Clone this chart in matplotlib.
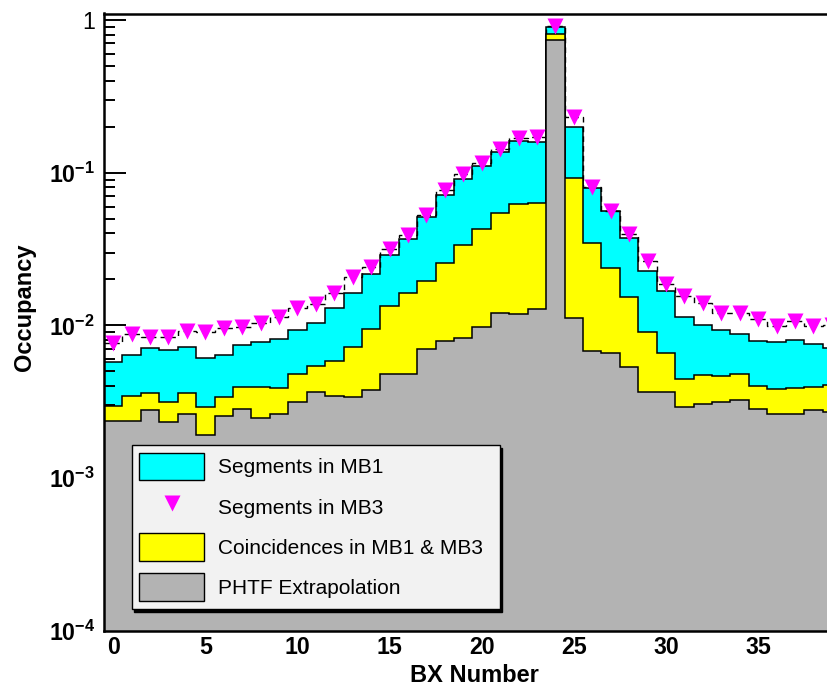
"""
BX occupancy of DT segments and PHTF extrapolation
"""
import numpy as np
import matplotlib
import matplotlib.pyplot as plt
from matplotlib.patches import Patch
from matplotlib.lines import Line2D

matplotlib.use('Agg')

BX = list(range(40))

MB1 = [5.74e-3, 6.41e-3, 7.16e-3, 6.89e-3, 7.23e-3, 6.12e-3, 6.38e-3, 7.45e-3, 7.76e-3, 8.12e-3,
       9.39e-3, 1.04e-2, 1.30e-2, 1.63e-2, 2.16e-2, 2.88e-2, 3.67e-2, 5.11e-2, 7.11e-2, 9.06e-2,
       0.111, 0.136, 0.161, 0.158, 0.896, 0.200, 7.98e-2, 5.64e-2, 3.72e-2, 2.28e-2,
       1.68e-2, 1.14e-2, 1.01e-2, 9.35e-3, 8.80e-3, 7.95e-3, 7.83e-3, 8.00e-3, 7.57e-3, 7.09e-3]

MB3 = [7.71e-3, 8.75e-3, 8.37e-3, 8.45e-3, 9.20e-3, 9.02e-3, 9.59e-3, 9.82e-3, 1.03e-2, 1.13e-2,
       1.30e-2, 1.38e-2, 1.63e-2, 2.06e-2, 2.41e-2, 3.17e-2, 3.89e-2, 5.29e-2, 7.71e-2, 9.82e-2,
       0.115, 0.143, 0.168, 0.172, 0.918, 0.231, 8.03e-2, 5.64e-2, 3.95e-2, 2.62e-2,
       1.88e-2, 1.55e-2, 1.40e-2, 1.20e-2, 1.20e-2, 1.10e-2, 9.97e-3, 1.07e-2, 9.93e-3, 1.00e-2]

COINC = [2.99e-3, 3.47e-3, 3.63e-3, 3.16e-3, 3.60e-3, 2.91e-3, 3.39e-3, 3.94e-3, 3.97e-3, 3.92e-3,
         4.81e-3, 5.41e-3, 5.89e-3, 7.26e-3, 9.48e-3, 1.34e-2, 1.63e-2, 1.96e-2, 2.58e-2, 3.35e-2,
         4.26e-2, 5.43e-2, 6.24e-2, 6.37e-2, 0.810, 9.20e-2, 3.48e-2, 2.37e-2, 1.54e-2, 9.10e-3,
         6.58e-3, 4.45e-3, 4.74e-3, 4.69e-3, 4.79e-3, 4.02e-3, 3.84e-3, 3.92e-3, 3.97e-3, 4.08e-3]

PHTF = [2.38e-3, 2.38e-3, 2.80e-3, 2.32e-3, 2.62e-3, 1.92e-3, 2.56e-3, 2.84e-3, 2.47e-3, 2.62e-3,
        3.14e-3, 3.69e-3, 3.45e-3, 3.42e-3, 3.75e-3, 4.81e-3, 4.81e-3, 6.98e-3, 7.92e-3, 8.24e-3,
        9.82e-3, 1.21e-2, 1.18e-2, 1.28e-2, 0.740, 1.11e-2, 6.81e-3, 6.58e-3, 5.33e-3, 3.69e-3,
        3.69e-3, 2.92e-3, 3.05e-3, 3.16e-3, 3.24e-3, 2.84e-3, 2.62e-3, 2.65e-3, 2.80e-3, 2.73e-3]

Y_TICKS = [1e-4, 1e-3, 1e-2, 1e-1, 1]
Y_LABELS = ['$10^{-4}$', '$10^{-3}$', '$10^{-2}$', '$10^{-1}$', '1']

plt.rcParams['font.family'] = 'Liberation Sans'
plt.rcParams['mathtext.fontset'] = 'custom'
plt.rcParams['mathtext.rm'] = 'Liberation Sans:bold'
plt.rcParams['mathtext.it'] = 'Liberation Sans:bold'
plt.rcParams['mathtext.bf'] = 'Liberation Sans:bold'

edges = np.arange(len(BX) + 1) - 0.5
base = 1e-6

fig = plt.figure(figsize=(8.28, 6.93), dpi=100)
ax = fig.add_axes([104 / 828, 62 / 693, 737 / 828, 617.5 / 693])

# stacked look: each histogram filled down to the bottom, drawn in order
ax.stairs(MB1, edges, baseline=base, fill=True, color='#00ffff', lw=0, zorder=1)
ax.stairs(MB1, edges, baseline=None, color='black', lw=1.1, zorder=1.1)
ax.stairs(MB3, edges, baseline=None, color='black', lw=1.0, ls=(0, (4, 3)), zorder=1.15)
ax.stairs(COINC, edges, baseline=base, fill=True, color='#ffff00', lw=0, zorder=1.2)
ax.stairs(COINC, edges, baseline=None, color='black', lw=1.1, zorder=1.3)
ax.stairs(PHTF, edges, baseline=base, fill=True, color='#b3b3b3', lw=0, zorder=3)
ax.stairs(PHTF, edges, baseline=None, color='black', lw=1.1, zorder=3.1)
ax.plot(BX, MB3, ls='none', marker='v', ms=12, color='#ff00ff', mec='none', zorder=4)

ax.set_yscale('log')
ax.set_xlim(-0.5, 39.5)
ax.set_ylim(1e-4, 1.1)

ax.set_yticks(Y_TICKS)
ax.set_yticklabels(Y_LABELS)
ax.set_xticks(range(0, 40, 5))
ax.tick_params(axis='y', which='major', direction='in', length=15.8, width=1.4,
               labelsize=16.7, pad=6.5, right=False)
ax.tick_params(axis='y', which='minor', direction='in', length=7.9, width=1.4, right=False)
ax.tick_params(axis='x', which='both', direction='in', length=6, width=1,
               labelsize=16.7, pad=3.8, top=False)
for lab in ax.get_xticklabels():
    lab.set_fontweight('bold')
ax.xaxis.set_minor_locator(matplotlib.ticker.NullLocator())

for sp in ax.spines.values():
    sp.set_linewidth(1.8)
    sp.set_zorder(6)

ax.set_xlabel('BX Number', fontsize=17, fontweight='bold', va='top')
ax.xaxis.set_label_coords(0.503, -0.053)
ax.set_ylabel('Occupancy', fontsize=17, fontweight='bold')
ax.yaxis.set_label_coords(-0.092, 0.525)

handles = [
    Patch(facecolor='#00ffff', edgecolor='black', lw=1),
    Line2D([], [], ls='none', marker='v', ms=12, color='#ff00ff', mec='none'),
    Patch(facecolor='#ffff00', edgecolor='black', lw=1),
    Patch(facecolor='#b3b3b3', edgecolor='black', lw=1),
]
labels = ['Segments in MB1', 'Segments in MB3', 'Coincidences in MB1 & MB3', 'PHTF Extrapolation']
leg = ax.legend(handles, labels, loc='upper left',
                bbox_to_anchor=(131.7 / 828, 1 - 445 / 693, 368 / 828, 0),
                bbox_transform=fig.transFigure, mode='expand', borderaxespad=0,
                prop={'size': 15},
                handlelength=3.125, handleheight=1.69, handletextpad=0.67,
                borderpad=0.36, labelspacing=0.59, fancybox=False, framealpha=1,
                facecolor='#f2f2f2', edgecolor='black',
                shadow={'color': 'black', 'alpha': 1})
leg.get_frame().set_linewidth(1.0)
leg.set_zorder(10)

plt.savefig('out.png', dpi=100)
